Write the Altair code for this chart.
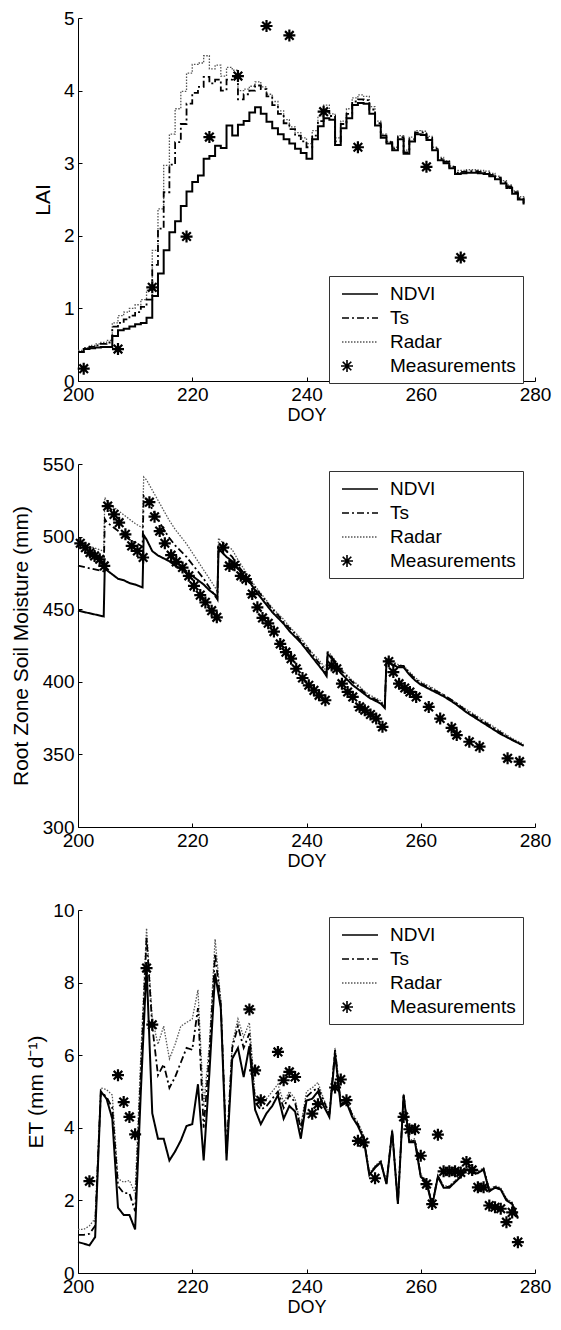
import altair as alt
import pandas as pd

FONT = "Liberation Sans"
SERIES = ["NDVI", "Ts", "Radar", "Measurements"]
X_TICKS = [200, 220, 240, 260, 280]

# ---------------- LAI panel (daily, stair steps) ----------------
LAI_DOY = list(range(200, 279))
LAI_NDVI = [0.40, 0.44, 0.45, 0.46, 0.47, 0.47, 0.62, 0.70, 0.72, 0.75,
            0.78, 0.80, 0.87, 1.17, 1.48, 1.80, 2.05, 2.20, 2.41, 2.61,
            2.74, 2.83, 3.06, 3.10, 3.24, 3.21, 3.52, 3.38, 3.53, 3.58,
            3.70, 3.77, 3.68, 3.57, 3.48, 3.40, 3.33, 3.27, 3.20, 3.14,
            3.06, 3.33, 3.51, 3.62, 3.60, 3.25, 3.48, 3.62, 3.80, 3.83,
            3.82, 3.68, 3.52, 3.35, 3.27, 3.18, 3.33, 3.13, 3.30, 3.40,
            3.39, 3.32, 3.18, 3.04, 3.00, 2.93, 2.85, 2.86, 2.87, 2.87,
            2.86, 2.85, 2.82, 2.78, 2.72, 2.66, 2.58, 2.50, 2.43]
LAI_TS = [0.40, 0.45, 0.47, 0.49, 0.51, 0.53, 0.75, 0.80, 0.85, 0.90,
          0.95, 1.02, 1.12, 1.60, 2.10, 2.60, 2.98, 3.29, 3.54, 3.82,
          3.97, 4.05, 4.19, 4.10, 4.15, 4.00, 4.15, 4.18, 3.88, 3.95,
          4.00, 4.07, 4.02, 3.92, 3.80, 3.68, 3.55, 3.47, 3.38, 3.30,
          3.22, 3.38, 3.58, 3.72, 3.65, 3.30, 3.54, 3.68, 3.85, 3.88,
          3.87, 3.74, 3.55, 3.38, 3.29, 3.20, 3.36, 3.15, 3.33, 3.42,
          3.42, 3.35, 3.20, 3.06, 3.02, 2.95, 2.87, 2.88, 2.89, 2.89,
          2.88, 2.87, 2.84, 2.80, 2.74, 2.68, 2.60, 2.52, 2.45]
LAI_RADAR = [0.42, 0.46, 0.49, 0.51, 0.53, 0.56, 0.80, 0.90, 0.95, 1.00,
             1.05, 1.12, 1.25, 1.80, 2.37, 2.97, 3.40, 3.75, 3.99, 4.24,
             4.36, 4.38, 4.48, 4.30, 4.35, 4.20, 4.32, 4.28, 4.00, 4.02,
             4.06, 4.12, 4.05, 3.95, 3.85, 3.72, 3.60, 3.50, 3.42, 3.35,
             3.27, 3.45, 3.65, 3.80, 3.68, 3.35, 3.58, 3.75, 3.90, 3.94,
             3.92, 3.78, 3.58, 3.40, 3.30, 3.22, 3.38, 3.18, 3.36, 3.45,
             3.44, 3.37, 3.22, 3.08, 3.03, 2.96, 2.90, 2.90, 2.91, 2.91,
             2.90, 2.89, 2.86, 2.82, 2.76, 2.70, 2.62, 2.54, 2.46]
LAI_MEAS_DOY = [201, 207, 213, 219, 223, 228, 233, 237, 243, 249, 261, 267]
LAI_MEAS = [0.17, 0.44, 1.29, 1.99, 3.36, 4.20, 4.89, 4.76, 3.71, 3.22, 2.95, 1.70]

# ---------------- Root zone soil moisture panel ----------------
RZ_DOY = [200, 204.5, 204.7, 205, 206, 207, 208, 209, 210, 211.3,
          211.5, 212, 213, 214, 215, 216, 217, 218, 219, 220,
          221, 222, 223, 224, 224.4, 224.6, 225, 226, 227, 228,
          229, 230, 231, 232, 233, 234, 235, 236, 237, 238,
          239, 240, 241, 242, 243, 243.5, 243.7, 244, 245, 246,
          247, 248, 249, 250, 251, 252, 253, 253.7, 254, 255,
          256, 257, 258, 259, 260, 262, 264, 266, 268, 270,
          272, 274, 276, 278]
RZ_NDVI = [449, 445, 481, 477, 474, 471, 470, 468, 467, 465,
           501, 498, 490, 487, 485, 483, 480, 478, 475, 473,
           470, 467, 463, 460, 457, 492, 490, 486, 483, 478,
           473, 469, 463, 458, 453, 448, 444, 440, 435, 431,
           427, 422, 417, 412, 407, 404, 419, 418, 413, 406,
           402, 398, 395, 392, 389, 387, 385, 382, 414, 412,
           410, 410, 405, 401, 398, 394, 390, 385, 379, 374,
           369, 364, 360, 356]
RZ_TS = [480, 476, 512, 510, 507, 504, 501, 498, 496, 493,
         528, 526, 519, 512, 505, 499, 494, 490, 486, 481,
         476, 471, 465, 459, 457, 495, 494, 490, 486, 480,
         475, 470, 465, 460, 455, 450, 446, 441, 437, 433,
         428, 424, 419, 414, 409, 405, 420, 419, 414, 408,
         404, 400, 397, 393, 390, 388, 386, 383, 415, 413,
         411, 411, 406, 402, 399, 395, 391, 386, 380, 375,
         370, 365, 360, 356]
RZ_RADAR = [496, 490, 527, 525, 521, 518, 515, 512, 509, 506,
            541, 539, 532, 525, 518, 511, 505, 500, 495, 489,
            483, 477, 471, 465, 462, 499, 497, 494, 491, 484,
            478, 472, 466, 461, 456, 451, 447, 443, 438, 434,
            430, 425, 420, 416, 411, 406, 421, 420, 415, 409,
            405, 401, 398, 394, 391, 389, 387, 384, 416, 414,
            412, 411, 407, 403, 400, 396, 391, 386, 381, 376,
            371, 366, 361, 357]
RZ_MEAS_DOY = [200.4, 201.3, 202.1, 202.9, 203.8, 204.6, 205.2, 206.3, 207.2, 208.3,
               209.4, 210.4, 211.4, 212.5, 213.4, 214.3, 215.2, 216.3, 217.2, 218.3,
               219.4, 220.3, 221.4, 222.3, 223.4, 224.3, 225.4, 226.5, 227.4, 228.5,
               229.4, 230.5, 231.4, 232.3, 233.3, 234.3, 235.4, 236.4, 237.3, 238.2,
               239.3, 240.4, 241.3, 242.2, 243.3, 244.4, 245.3, 246.2, 247.2, 248.1,
               249.3, 250.2, 251.2, 252.2, 253.3, 254.4, 255.2, 256.2, 257.2, 258.1,
               259.2, 261.4, 263.4, 265.4, 266.3, 268.5, 270.3, 275.2, 277.3]
RZ_MEAS = [495.4, 492.4, 489.0, 486.7, 484.4, 479.8, 521.0, 515.3, 509.6, 501.6,
           493.6, 490.1, 485.6, 523.7, 513.7, 503.8, 495.4, 487.2, 482.6, 478.7,
           473.0, 466.1, 459.7, 454.7, 449.0, 444.4, 492.4, 479.8, 480.3, 473.0,
           470.7, 460.4, 451.3, 444.0, 440.3, 434.6, 426.1, 420.4, 415.9, 409.0,
           402.6, 397.6, 394.1, 390.7, 387.3, 411.3, 409.0, 398.7, 393.0, 389.6,
           382.7, 380.4, 377.5, 374.7, 369.0, 414.0, 406.7, 398.7, 395.7, 393.0,
           389.6, 382.7, 374.7, 368.3, 363.3, 358.7, 355.3, 347.3, 345.0]

# ---------------- ET panel ----------------
ET_DOY = list(range(200, 278))
ET_NDVI = [0.85, 0.81, 0.76, 0.99, 5.00, 4.80, 4.25, 1.80, 1.60, 1.60,
           1.20, 5.00, 8.45, 4.40, 3.70, 3.70, 3.10, 3.35, 3.65, 4.05,
           4.10, 5.20, 3.10, 5.50, 8.25, 7.30, 3.10, 5.90, 6.20, 5.40,
           6.25, 4.50, 4.10, 4.40, 4.60, 4.90, 4.25, 4.60, 4.45, 3.70,
           4.75, 4.80, 5.00, 4.60, 4.30, 6.05, 4.60, 4.70, 4.30, 4.05,
           3.70, 2.70, 2.90, 3.05, 2.45, 3.90, 1.90, 4.90, 3.60, 3.60,
           2.65, 2.50, 1.85, 2.65, 2.35, 2.35, 2.50, 2.65, 2.85, 2.75,
           2.75, 2.85, 2.25, 2.35, 2.30, 2.00, 1.90, 1.50]
ET_TS = [1.05, 1.05, 1.08, 1.30, 5.00, 4.85, 4.55, 2.40, 2.20, 2.20,
         1.70, 5.50, 9.25, 6.80, 5.45, 5.75, 5.10, 5.40, 5.80, 6.20,
         6.15, 7.30, 4.00, 6.00, 8.80, 7.40, 3.30, 6.20, 6.80, 6.20,
         6.60, 4.70, 4.50, 4.60, 4.80, 5.00, 4.55, 4.90, 4.70, 3.95,
         4.85, 5.00, 5.10, 4.75, 4.35, 6.15, 4.65, 4.75, 4.35, 4.10,
         3.75, 2.72, 2.92, 3.07, 2.47, 3.92, 1.92, 4.92, 3.62, 3.65,
         2.67, 2.52, 1.87, 2.67, 2.37, 2.37, 2.52, 2.67, 2.87, 2.77,
         2.77, 2.87, 2.27, 2.37, 2.32, 2.02, 1.92, 1.52]
ET_RADAR = [1.20, 1.20, 1.30, 1.50, 5.10, 5.05, 4.90, 2.60, 2.50, 2.55,
            2.20, 6.00, 9.50, 7.00, 6.30, 6.80, 5.90, 6.30, 6.80, 6.90,
            7.00, 7.80, 4.60, 6.30, 9.20, 7.50, 3.30, 6.30, 7.00, 6.50,
            6.90, 4.90, 4.60, 4.80, 5.00, 5.20, 4.70, 5.00, 4.80, 4.05,
            5.00, 5.10, 5.25, 4.80, 4.40, 6.20, 4.70, 4.80, 4.40, 4.15,
            3.80, 2.75, 2.95, 3.10, 2.50, 3.95, 1.95, 4.95, 3.65, 3.70,
            2.70, 2.55, 1.90, 2.70, 2.40, 2.40, 2.55, 2.70, 2.90, 2.80,
            2.80, 2.90, 2.30, 2.40, 2.35, 2.05, 1.95, 1.55]
ET_MEAS_DOY = [202, 207, 208, 209, 210, 212, 213, 230, 231, 232,
               235, 236, 237, 238, 241, 242, 245, 246, 247, 249,
               250, 252, 257, 258, 259, 260, 261, 262, 263, 264,
               265, 266, 267, 268, 269, 270, 271, 272, 273, 274,
               275, 276, 277]
ET_MEAS = [2.53, 5.45, 4.71, 4.30, 3.82, 8.40, 6.84, 7.26, 5.58, 4.76,
           6.09, 5.31, 5.54, 5.40, 4.39, 4.65, 5.11, 5.33, 4.76, 3.64,
           3.60, 2.61, 4.30, 3.96, 3.96, 3.23, 2.45, 1.90, 3.81, 2.80,
           2.80, 2.80, 2.77, 3.06, 2.84, 2.36, 2.36, 1.86, 1.81, 1.77,
           1.40, 1.67, 0.85]

# ---------------- styles ----------------
DASHES = [[1, 0], [7, 3, 2, 3], [1.5, 1.5], [1, 0]]
COLORS = ["#000000", "#000000", "#555555", "#000000"]
LINE_SYM = "M-0.5,0L3.1,0"
ASTERISK = ("M0,-0.6L0,0.6M-0.6,0L0.6,0"
            "M-0.43,-0.43L0.43,0.43M-0.43,0.43L0.43,-0.43")
SHAPES = [LINE_SYM, LINE_SYM, LINE_SYM, ASTERISK]
WIDTHS = {"NDVI": 2.0, "Ts": 1.8, "Radar": 1.3}

W, H = 457, 363


def frame(doy, vals, name):
    return pd.DataFrame({"doy": doy, "val": vals, "series": name})


def legend(ly):
    return alt.Legend(title=None, orient="none", legendX=251, legendY=ly,
                      padding=7, rowPadding=3, symbolSize=400,
                      symbolStrokeWidth=1.6, labelOffset=32, labelFontSize=19,
                      labelFont=FONT, labelColor="black", strokeColor="#333333",
                      fillColor="white", labelLimit=300)


def panel(lines, meas, ydom, yticks, ytitle, tpad, ly, interp):
    x = alt.X("doy:Q", scale=alt.Scale(domain=[200, 280], nice=False, zero=False),
              axis=alt.Axis(values=X_TICKS, title="DOY", grid=True,
                            gridDash=[4, 10000], gridDashOffset=10004 - (H - 4)))
    y = alt.Y("val:Q", scale=alt.Scale(domain=ydom, nice=False, zero=False),
              axis=alt.Axis(values=yticks, title=ytitle, titlePadding=tpad,
                            grid=True, gridDash=[4, 10000]))
    dash = alt.StrokeDash("series:N", scale=alt.Scale(domain=SERIES, range=DASHES),
                          legend=legend(ly))
    color = alt.Color("series:N", scale=alt.Scale(domain=SERIES, range=COLORS),
                      legend=legend(ly))
    shape = alt.Shape("series:N", scale=alt.Scale(domain=SERIES, range=SHAPES),
                      legend=legend(ly))
    layers = []
    for name in ["Radar", "Ts", "NDVI"]:
        layers.append(
            alt.Chart(lines[name]).mark_line(strokeWidth=WIDTHS[name], interpolate=interp)
            .encode(x=x, y=y, strokeDash=dash, color=color)
        )
    pts = alt.Chart(meas).mark_point(size=400, filled=False, strokeWidth=2.2, opacity=1).encode(
        x=x, y=y, shape=shape, color=color)
    return alt.layer(*layers, pts).properties(width=W, height=H)


p1 = panel({"NDVI": frame(LAI_DOY, LAI_NDVI, "NDVI"),
            "Ts": frame(LAI_DOY, LAI_TS, "Ts"),
            "Radar": frame(LAI_DOY, LAI_RADAR, "Radar")},
           frame(LAI_MEAS_DOY, LAI_MEAS, "Measurements"),
           [0, 5], [0, 1, 2, 3, 4, 5], "LAI", 10, 258, "step-after")
p2 = panel({"NDVI": frame(RZ_DOY, RZ_NDVI, "NDVI"),
            "Ts": frame(RZ_DOY, RZ_TS, "Ts"),
            "Radar": frame(RZ_DOY, RZ_RADAR, "Radar")},
           frame(RZ_MEAS_DOY, RZ_MEAS, "Measurements"),
           [300, 550], [300, 350, 400, 450, 500, 550],
           "Root Zone Soil Moisture (mm)", 11, 7, "linear")
p3 = panel({"NDVI": frame(ET_DOY, ET_NDVI, "NDVI"),
            "Ts": frame(ET_DOY, ET_TS, "Ts"),
            "Radar": frame(ET_DOY, ET_RADAR, "Radar")},
           frame(ET_MEAS_DOY, ET_MEAS, "Measurements"),
           [0, 10], [0, 2, 4, 6, 8, 10], "ET (mm d\u207b\u00b9)", 6, 7, "linear")

chart = (
    alt.vconcat(p1, p2, p3, spacing=83, bounds="flush")
    .resolve_scale(color="independent", strokeDash="independent", shape="independent")
    .properties(padding={"left": 1, "top": 0, "right": 0, "bottom": 0}, background="white")
    .configure_view(stroke="transparent")
    .configure_axis(domainColor="black", domainWidth=1, ticks=False, tickSize=0,
                    labelFont=FONT, titleFont=FONT, labelFontSize=19, titleFontSize=19,
                    labelColor="black", titleColor="black", titleFontWeight="normal",
                    gridColor="black", gridOpacity=1, gridWidth=1, labelFlush=False,
                    labelPadding=4, labelOverlap=False)
    .configure_axisX(titlePadding=2, titleFontSize=18)
    .configure_axisY(titleFontSize=21)
)

chart.save("out.html", embed_options={"renderer": "svg", "actions": False})
